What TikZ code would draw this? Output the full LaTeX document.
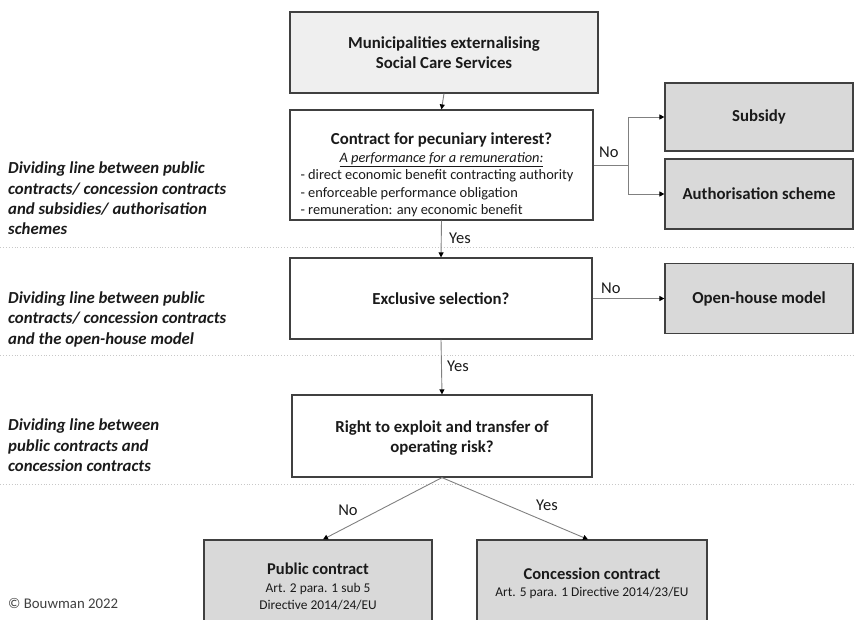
\documentclass[tikz,border=0pt]{standalone}
\usepackage{fontspec}
\setmainfont{Carlito}
\usetikzlibrary{arrows.meta}
\definecolor{boxline}{HTML}{404040}
\definecolor{outfill}{HTML}{D9D9D9}
\definecolor{topfill}{HTML}{EFEFEF}
\definecolor{conn}{HTML}{808080}
\definecolor{dots}{HTML}{C8C8C8}
\definecolor{txt}{HTML}{1A1A1A}
\newcommand{\ttlfont}{\fontsize{16.8}{20}\selectfont\bfseries}
\newcommand{\bodyfont}{\fontsize{14.4}{17.4}\selectfont}
\tikzset{
  x=1pt, y=-1pt,
  box/.style={draw=boxline, line width=1.2pt, fill=white, align=center, inner sep=2pt, text=txt},
  outbox/.style={box, fill=outfill},
  topbox/.style={box, fill=topfill},
  inner/.style={align=center, inner sep=0pt, text=txt},
  arr/.style={draw=conn, line width=0.9pt, -{Triangle[length=5pt,width=5pt,fill=black,color=black]}},
  plain/.style={draw=conn, line width=0.9pt},
  divider/.style={draw=dots, line width=0.9pt, dotted},
  side/.style={anchor=north west, align=left, text=txt, font=\fontsize{16.8}{20.3}\selectfont\bfseries\itshape, inner sep=0pt},
  lab/.style={text=txt, font=\fontsize{16.5}{18}\selectfont, inner sep=0pt},
}
\begin{document}
\begin{tikzpicture}
\useasboundingbox (0,0) rectangle (854,619);
\clip (0,0) rectangle (854,619);
% dividers
\draw[divider] (0,247) -- (854,247);
\draw[divider] (0,355) -- (854,355);
\draw[divider] (0,484) -- (854,484);
% boxes
\node[topbox, minimum width=308pt, minimum height=81pt, font=\ttlfont] (top) at (444,52.5)
  {Municipalities externalising\\Social Care Services};
\node[box, minimum width=303pt, minimum height=110pt] (contract) at (441.5,165) {};
\node[inner, font=\bodyfont] (ctext) at (441.5,175)
  {{\ttlfont Contract for pecuniary interest?}\\[0pt]
   {\itshape\underline{A performance for a remuneration:}}\\
   \parbox[t]{282pt}{\raggedright\bodyfont
   - direct economic benefit contracting authority\\
   - enforceable performance obligation\\
   - remuneration: any economic benefit}};
\node[outbox, minimum width=188pt, minimum height=68pt, font=\ttlfont] (subsidy) at (759,117) {Subsidy};
\node[outbox, minimum width=188pt, minimum height=70pt, font=\ttlfont] (auth) at (759,194) {Authorisation scheme};
\node[box, minimum width=302pt, minimum height=81pt, font=\ttlfont] (excl) at (441,298.5) {Exclusive selection?};
\node[outbox, minimum width=188pt, minimum height=70pt, font=\ttlfont] (open) at (759,298.5) {Open-house model};
\node[box, minimum width=300pt, minimum height=82pt] (risk) at (442,436) {};
\node[inner, font=\ttlfont] (rtext) at (442,438.5)
  {Right to exploit and transfer of\\operating risk?};
\node[outbox, minimum width=228pt, minimum height=93pt] (public) at (318,586.5) {};
\node[inner, font=\fontsize{13.4}{17.5}\selectfont] (ptext) at (318,586.5)
  {{\fontsize{16.5}{18}\selectfont\bfseries Public contract}\\
   Art. 2 para. 1 sub 5\\
   Directive 2014/24/EU};
\node[outbox, minimum width=230pt, minimum height=86pt] (conc) at (592,583) {};
\node[inner, font=\fontsize{13.4}{16.5}\selectfont] (ctxt2) at (592,583.5)
  {{\fontsize{16.5}{18}\selectfont\bfseries Concession contract}\\
   Art. 5 para. 1 Directive 2014/23/EU};
% side labels
\node[side] (s1) at (8,162) {Dividing line between public\\contracts/ concession contracts\\and subsidies/ authorisation\\schemes};
\node[side] (s2) at (8,291.5) {Dividing line between public\\contracts/ concession contracts\\and the open-house model};
\node[side] (s3) at (8,419) {Dividing line between\\public contracts and\\concession contracts};
\node[anchor=west, inner sep=0pt, text=boxline, font=\fontsize{14.8}{16}\selectfont] (copy) at (8,603) {© Bouwman 2022};
% connectors
\draw[arr] (top.south) -- (contract.north);
\coordinate (branch) at (628,165);
\draw[plain] (contract.east) -- (branch);
\draw[arr] (branch) |- (subsidy.west);
\draw[arr] (branch) |- (auth.west);
\node[lab, anchor=west] (no1) at (599,152) {No};
\draw[arr] (contract.south) -- (excl.north);
\node[lab, anchor=west] (yes1) at (449,238) {Yes};
\draw[arr] (excl.east) -- (open.west);
\node[lab, anchor=west] (no2) at (601,288) {No};
\draw[arr] (excl.south) -- (risk.north);
\node[lab, anchor=west] (yes2) at (447,366) {Yes};
\draw[arr] (risk.south) -- ([xshift=5pt]public.north);
\draw[arr] (risk.south) -- ([xshift=-4pt]conc.north);
\node[lab] (no3) at (348,510) {No};
\node[lab] (yes3) at (547,505) {Yes};
\end{tikzpicture}
\end{document}
